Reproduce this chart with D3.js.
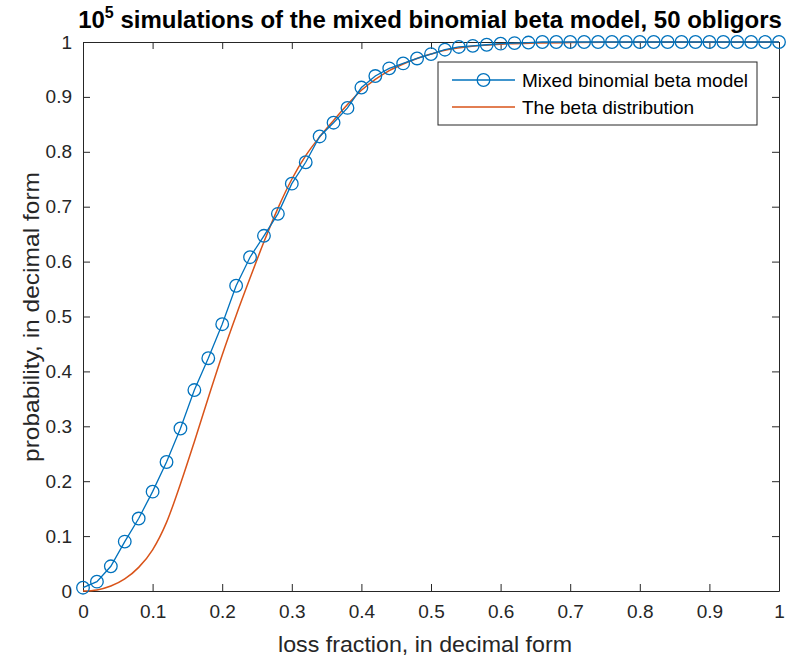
<!DOCTYPE html>
<html>
<head>
<meta charset="utf-8">
<script src="https://cdn.jsdelivr.net/npm/d3@7"></script>
<style>
  body { margin: 0; background: #fff; }
  svg { display: block; font-family: "Liberation Sans", Arial, sans-serif; }
</style>
</head>
<body>
<svg></svg>
<script>
// loss fraction grid for the simulated model (k/50)
var lossFrac = d3.range(0, 51).map(function (k) { return k / 50; });
var simProb = [0.006, 0.017, 0.045, 0.090, 0.132, 0.181, 0.235, 0.296, 0.366, 0.424,
    0.486, 0.556, 0.608, 0.647, 0.687, 0.742, 0.781, 0.828, 0.853, 0.880,
    0.917, 0.938, 0.952, 0.961, 0.970, 0.978, 0.986, 0.991, 0.993, 0.995,
    0.997, 0.998, 0.999, 1, 1, 1, 1, 1, 1, 1,
    1, 1, 1, 1, 1, 1, 1, 1, 1, 1, 1];

// beta distribution curve
var betaX = [0, 0.02, 0.04, 0.06, 0.08, 0.10, 0.12, 0.14, 0.16, 0.18, 0.20, 0.22, 0.24,
    0.26, 0.28, 0.30, 0.32, 0.34, 0.36, 0.38, 0.40, 0.42, 0.44, 0.46, 0.48,
    0.50, 0.52, 0.55, 0.60, 0.65, 0.70, 0.80, 0.90, 1.00];
var betaY = [0, 0.002, 0.009, 0.022, 0.043, 0.075, 0.125, 0.195, 0.272, 0.352, 0.43, 0.502, 0.57,
    0.636, 0.697, 0.75, 0.793, 0.827, 0.857, 0.886, 0.912, 0.932, 0.948, 0.960, 0.970,
    0.978, 0.985, 0.991, 0.996, 0.998, 0.999, 1, 1, 1];

var xTicks = d3.range(0, 11).map(function (i) { return i / 10; });
var yTicks = d3.range(0, 11).map(function (i) { return i / 10; });

var W = 787, H = 662;
var L = 83, R = 8, T = 42, B = 71;
var blue = '#0072BD', red = '#D95319', axisCol = '#262626';

var svg = d3.select('svg').attr('width', W).attr('height', H);

var x = d3.scaleLinear().domain([0, 1]).range([L, W - R]);
var y = d3.scaleLinear().domain([0, 1]).range([H - B, T]);

function fmt(d) { return d === 0 || d === 1 ? String(d) : d3.format('.1f')(d); }

// axes, MATLAB style: ticks inward, box on
var gx = svg.append('g')
    .attr('transform', 'translate(0,' + (H - B) + ')')
    .call(d3.axisBottom(x).tickValues(xTicks).tickFormat(fmt).tickSizeInner(-7).tickSizeOuter(0).tickPadding(14));
var gy = svg.append('g')
    .attr('transform', 'translate(' + L + ',0)')
    .call(d3.axisLeft(y).tickValues(yTicks).tickFormat(fmt).tickSizeInner(-7).tickSizeOuter(0).tickPadding(11));
var gxt = svg.append('g')
    .attr('transform', 'translate(0,' + T + ')')
    .call(d3.axisTop(x).tickValues(xTicks).tickFormat('').tickSizeInner(-7).tickSizeOuter(0));
var gyr = svg.append('g')
    .attr('transform', 'translate(' + (W - R) + ',0)')
    .call(d3.axisRight(y).tickValues(yTicks).tickFormat('').tickSizeInner(-7).tickSizeOuter(0));

[gx, gy, gxt, gyr].forEach(function (g) {
    g.select('.domain').attr('stroke', axisCol).attr('stroke-width', 1);
    g.selectAll('.tick line').attr('stroke', axisCol).attr('stroke-width', 1);
    g.selectAll('.tick text').attr('fill', axisCol).style('font-size', '19px');
});

// beta distribution line
svg.append('path')
    .datum(betaX.map(function (v, i) { return [v, betaY[i]]; }))
    .attr('fill', 'none')
    .attr('stroke', red)
    .attr('stroke-width', 1.5)
    .attr('d', d3.line()
        .curve(d3.curveMonotoneX)
        .x(function (d) { return x(d[0]); })
        .y(function (d) { return y(d[1]); }));

// simulated model line + circle markers
var sim = lossFrac.map(function (v, i) { return [v, simProb[i]]; });
svg.append('path')
    .datum(sim)
    .attr('fill', 'none')
    .attr('stroke', blue)
    .attr('stroke-width', 1.3)
    .attr('d', d3.line().x(function (d) { return x(d[0]); }).y(function (d) { return y(d[1]); }));

svg.append('g').selectAll('circle')
    .data(sim)
    .enter()
    .append('circle')
    .attr('cx', function (d) { return x(d[0]); })
    .attr('cy', function (d) { return y(d[1]); })
    .attr('r', 6.3)
    .attr('fill', 'none')
    .attr('stroke', blue)
    .attr('stroke-width', 1.3);

// title
var title = svg.append('text')
    .attr('x', 430)
    .attr('y', 28)
    .attr('text-anchor', 'middle')
    .attr('fill', '#000')
    .style('font-size', '24px')
    .style('font-weight', 'bold');
title.append('tspan').text('10');
title.append('tspan').attr('dy', -10).style('font-size', '16px').text('5');
title.append('tspan').attr('dy', 10).text(' simulations of the mixed binomial beta model, 50 obligors');

// axis labels
svg.append('text')
    .attr('x', 425)
    .attr('y', 652)
    .attr('text-anchor', 'middle')
    .attr('fill', axisCol)
    .attr('textLength', 294)
    .attr('lengthAdjust', 'spacingAndGlyphs')
    .style('font-size', '22px')
    .text('loss fraction, in decimal form');

svg.append('text')
    .attr('transform', 'translate(39,317) rotate(-90)')
    .attr('text-anchor', 'middle')
    .attr('fill', axisCol)
    .attr('textLength', 290)
    .attr('lengthAdjust', 'spacingAndGlyphs')
    .style('font-size', '22px')
    .text('probability, in decimal form');

// legend
var lg = svg.append('g').attr('transform', 'translate(438,62)');
lg.append('rect')
    .attr('width', 319).attr('height', 63)
    .attr('fill', '#fff')
    .attr('stroke', axisCol)
    .attr('stroke-width', 1);

var legendItems = [
    { label: 'Mixed binomial beta model', color: blue, marker: true },
    { label: 'The beta distribution', color: red, marker: false }
];
var li = lg.selectAll('g.item')
    .data(legendItems)
    .enter()
    .append('g')
    .attr('class', 'item')
    .attr('transform', function (d, i) { return 'translate(0,' + (18 + i * 27) + ')'; });
li.append('line')
    .attr('x1', 14).attr('x2', 77)
    .attr('stroke', function (d) { return d.color; })
    .attr('stroke-width', 1.3);
li.filter(function (d) { return d.marker; })
    .append('circle')
    .attr('cx', 45.5).attr('r', 6.3)
    .attr('fill', 'none')
    .attr('stroke', blue)
    .attr('stroke-width', 1.3);
li.append('text')
    .attr('x', 84)
    .attr('dy', '0.35em')
    .attr('fill', '#000')
    .style('font-size', '19px')
    .text(function (d) { return d.label; });
</script>
</body>
</html>
